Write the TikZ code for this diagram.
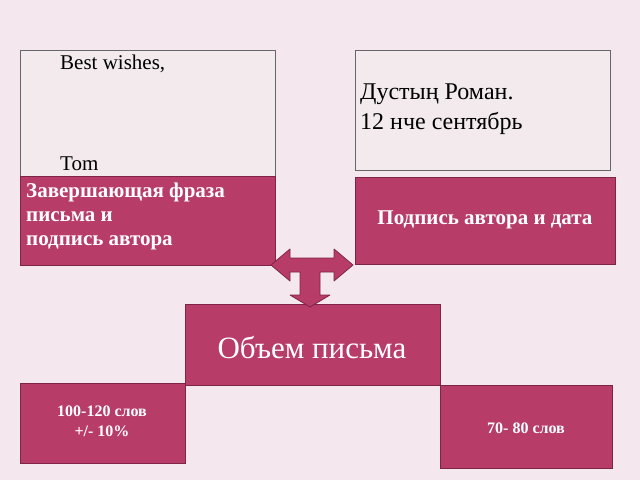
\documentclass[tikz,border=0pt]{standalone}
\usepackage{fontspec}
\setmainfont{Liberation Serif}
\definecolor{bg}{HTML}{F4E8EE}
\definecolor{lite}{HTML}{F2EAEC}
\definecolor{rose}{HTML}{B83C68}
\definecolor{rosedk}{HTML}{7E2448}
\begin{document}
\begin{tikzpicture}[x=1pt,y=-1pt,
  litebox/.style={draw=gray!80!black,fill=lite,line width=0.8pt},
  rosebox/.style={draw=rosedk,fill=rose,line width=0.8pt},
  wt/.style={text=white,font=\bfseries\fontsize{21}{24}\selectfont}]
\fill[bg] (0,0) rectangle (640,480);
\useasboundingbox (0,0) rectangle (640,480);
% light boxes
\draw[litebox] (20,50) rectangle (275,176);
\node[anchor=north west,inner sep=0pt,font=\fontsize{21}{24}\selectfont] (bw) at (60,55) {Best wishes,};
\node[anchor=north west,inner sep=0pt,font=\fontsize{21}{24}\selectfont] (tom) at (60,157) {Tom};
\draw[litebox] (355,50) rectangle (610,170);
\node[anchor=north west,inner sep=0pt,align=left,font=\fontsize{24}{30}\selectfont] (sig) at (360,84) {Дустың Роман.\\12 нче сентябрь};
% pink boxes
\draw[rosebox] (20,176) rectangle (275,265);
\node[wt,anchor=north west,inner sep=0pt,align=left] (c) at (26,183) {Завершающая фраза\\письма и\\подпись автора};
\draw[rosebox] (355,177) rectangle (615,264);
\node[wt] (d) at (485,220) {Подпись автора и дата};
\draw[rosebox] (185,304) rectangle (440,385);
\node[text=white,font=\fontsize{31}{34}\selectfont] (e) at (312,348) {Объем письма};
\draw[rosebox] (20,383) rectangle (185,463);
\node[wt,align=center,font=\bfseries\fontsize{16}{20}\selectfont] (f) at (102,421) {100-120 слов\\+/- 10\%};
\draw[rosebox] (440,385) rectangle (612,468);
\node[wt,font=\bfseries\fontsize{16}{20}\selectfont] (g) at (526,428) {70- 80 слов};
% T-arrow
\draw[rosebox,line join=round] (271,265) -- (290,249) -- (290,258) -- (334,258) -- (334,249) -- (353,265)
  -- (334,281) -- (334,272) -- (320,272) -- (320,295) -- (330,295) -- (310,307)
  -- (290,295) -- (300,295) -- (300,272) -- (290,272) -- (290,281) -- cycle;
\end{tikzpicture}
\end{document}
